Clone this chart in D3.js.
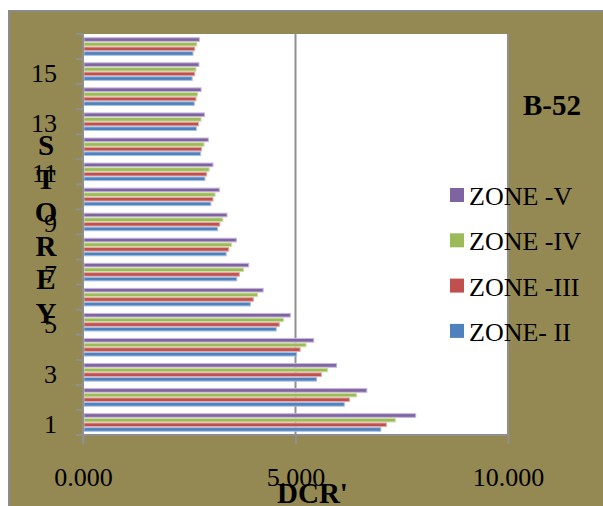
<!DOCTYPE html>
<html><head><meta charset="utf-8">
<script src="https://cdn.jsdelivr.net/npm/d3@7"></script>
<style>
html,body{margin:0;padding:0;background:#fff;}
svg{display:block;}
text{font-family:"Liberation Serif","Times New Roman",serif;fill:#000;}
</style></head>
<body>
<svg id="chart" width="603" height="506"></svg>
<script>
const categories = ["1","2","3","4","5","6","7","8","9","10","11","12","13","14","15","16"];
const zoneII  = [7.02, 6.16, 5.51, 5.04, 4.56, 3.95, 3.63, 3.38, 3.18, 3.02, 2.88, 2.78, 2.68, 2.63, 2.58, 2.60];
const zoneIII = [7.15, 6.28, 5.62, 5.12, 4.63, 4.02, 3.69, 3.44, 3.23, 3.07, 2.92, 2.80, 2.73, 2.67, 2.64, 2.64];
const zoneIV  = [7.36, 6.45, 5.77, 5.26, 4.73, 4.12, 3.79, 3.51, 3.30, 3.12, 2.98, 2.86, 2.79, 2.71, 2.67, 2.69];
const zoneV   = [7.84, 6.69, 5.98, 5.44, 4.89, 4.25, 3.91, 3.62, 3.40, 3.22, 3.07, 2.96, 2.87, 2.79, 2.74, 2.75];
const seriesNames = ["ZONE -V", "ZONE -IV", "ZONE -III", "ZONE- II"];
const seriesColors = ["#8064A2", "#9BBB59", "#C0504D", "#4F81BD"];
const seriesEdges = ["#C5B6DA", "#CFE0A8", "#E3A9A7", "#A9C1E2"];
const xTicks = [0, 5, 10];
const yLabelCats = ["1","3","5","7","9","11","13","15"];
const yTitle = ["S","T","O","R","E","Y"];

const series = [zoneV, zoneIV, zoneIII, zoneII];
const svg = d3.select("#chart");
const olive = "#948953";

// outer chart area
svg.append("rect").attr("x", 9).attr("y", 11).attr("width", 603).attr("height", 506)
  .attr("fill", olive).attr("stroke", "#8a8a8a").attr("stroke-width", 2);

const L = 83, R = 508, T = 34, B = 435;
svg.append("rect").attr("x", L).attr("y", T).attr("width", R - L).attr("height", B - T).attr("fill", "#fff");

const x = d3.scaleLinear().domain([0, 10]).range([L, R]);
const y = d3.scaleBand().domain(categories.slice().reverse()).range([T, B]).padding(0);
const step = y.step();
const groupH = step / 1.35;
const yInner = d3.scaleBand().domain(d3.range(series.length)).range([(step - groupH) / 2, (step + groupH) / 2]);

// gridlines at 5 and 10
svg.append("g").selectAll("line").data(xTicks.filter(d => d > 0)).join("line")
  .attr("x1", d => x(d)).attr("x2", d => x(d)).attr("y1", T).attr("y2", B)
  .attr("stroke", "#8f8f8f").attr("stroke-width", 2);

// bars
const gBars = svg.append("g");
series.forEach((vals, si) => {
  gBars.selectAll(null).data(categories).join("rect")
    .attr("x", x(0) + 1)
    .attr("y", (c) => y(c) + yInner(si) + 0.5)
    .attr("width", (c, i) => Math.max(0, x(vals[i]) - x(0) - 1.5))
    .attr("height", yInner.bandwidth() - 1)
    .attr("fill", seriesColors[si])
    .attr("stroke", seriesEdges[si]).attr("stroke-width", 1);
});

// axes lines
svg.append("line").attr("x1", L).attr("x2", L).attr("y1", T).attr("y2", B + 9).attr("stroke", "#8f8f8f").attr("stroke-width", 2);
svg.append("line").attr("x1", L - 7).attr("x2", R).attr("y1", B).attr("y2", B).attr("stroke", "#8f8f8f").attr("stroke-width", 2);

// y boundary ticks
const bounds = categories.map(c => y(c));
svg.append("g").selectAll("line").data(bounds).join("line")
  .attr("x1", L - 7).attr("x2", L).attr("y1", d => d).attr("y2", d => d)
  .attr("stroke", "#8f8f8f").attr("stroke-width", 2);

// x axis
const xAxis = d3.axisBottom(x).tickValues(xTicks).tickFormat(d3.format(".3f")).tickSize(9).tickPadding(0);
const gx = svg.append("g").attr("transform", `translate(0,${B})`).call(xAxis);
gx.select(".domain").remove();
gx.selectAll(".tick line").attr("stroke", "#8f8f8f").attr("stroke-width", 2);
gx.selectAll(".tick text").attr("y", 51).attr("dy", 0).attr("font-size", 26)
  .attr("font-family", "Liberation Serif").attr("fill", "#000");

// y axis labels
const yAxis = d3.axisLeft(y).tickValues(yLabelCats).tickSize(0).tickPadding(26);
const gy = svg.append("g").attr("transform", `translate(${L},0)`).call(yAxis);
gy.select(".domain").remove();
gy.selectAll(".tick text").attr("dy", "0.4em").attr("font-size", 26)
  .attr("font-family", "Liberation Serif").attr("fill", "#000");

// y title stacked letters
svg.append("g").selectAll("text").data(yTitle).join("text")
  .attr("x", 46).attr("y", (d, i) => 155 + i * 33.6)
  .attr("text-anchor", "middle").attr("font-size", 29).attr("font-weight", "bold").text(d => d);

// x title
svg.append("text").attr("x", 277).attr("y", 503).attr("font-size", 29).attr("font-weight", "bold").text("DCR'");

// B-52 label
svg.append("text").attr("x", 523).attr("y", 115).attr("font-size", 29).attr("font-weight", "bold").text("B-52");

// legend
const lg = svg.append("g").selectAll("g").data(seriesNames).join("g")
  .attr("transform", (d, i) => `translate(450,${188 + i * 45.3})`);
lg.append("rect").attr("width", 14).attr("height", 14).attr("fill", (d, i) => seriesColors[i]);
lg.append("text").attr("x", 19).attr("y", 17).attr("font-size", 26).text(d => d);
</script>
</body></html>
